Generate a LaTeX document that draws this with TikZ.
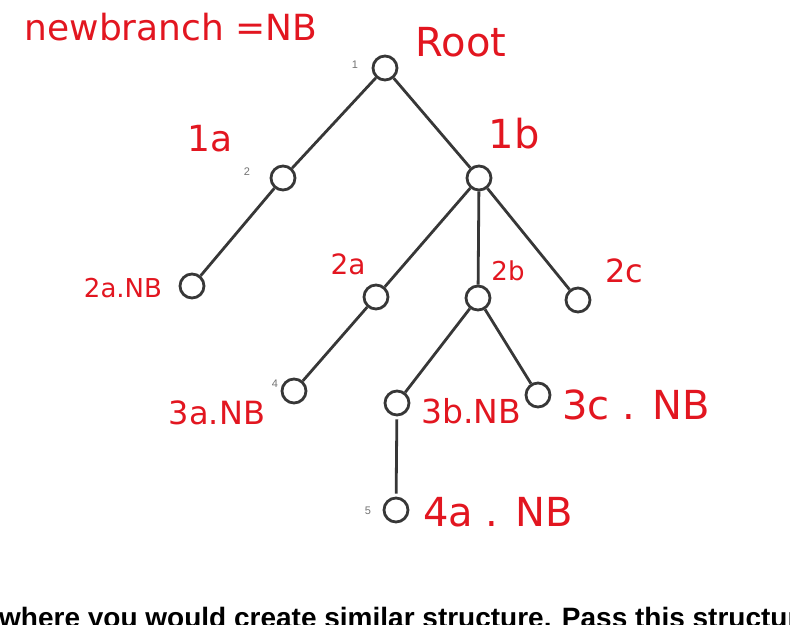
\documentclass[tikz,border=0pt]{standalone}
\usepackage{fontspec}
\setmainfont{Liberation Sans}
\newfontfamily\handfont{DejaVu Sans}
\definecolor{pen}{RGB}{226,22,32}
\definecolor{wire}{RGB}{55,55,55}
\begin{document}
\begin{tikzpicture}[x=1pt,y=-1pt,
  vtx/.style={circle,draw=wire,line width=2.8pt,minimum size=24pt,inner sep=0pt},
  link/.style={draw=wire,line width=2.8pt,shorten >=3pt,shorten <=3pt},
  hw/.style={text=pen,font=\handfont\fontsize{#1pt}{#1pt}\selectfont,inner sep=0pt},
  idx/.style={text=black!55,font=\fontsize{11pt}{11pt}\selectfont,inner sep=0pt}]
\useasboundingbox (0,0) rectangle (790,624);
\clip (0,0) rectangle (790,624);
\node[vtx] (root) at (385,68) {};
\node[vtx] (n1a) at (283,178) {};
\node[vtx] (n1b) at (479,178) {};
\node[vtx] (n2aNB) at (192,286) {};
\node[vtx] (n2a) at (376,297) {};
\node[vtx] (n2b) at (478,298) {};
\node[vtx] (n2c) at (578,300) {};
\node[vtx] (n3a) at (294,391) {};
\node[vtx] (n3b) at (397,403) {};
\node[vtx] (n3c) at (538,395) {};
\node[vtx] (n4a) at (396,510) {};
\node[idx] (i1) at (355,65) {1};
\node[idx] (i2) at (247,172) {2};
\node[idx] (i4) at (275,384) {4};
\node[idx] (i5) at (368,511) {5};
\node[hw=36] (key) at (171,27) {newbranch =NB};
\node[hw=40] (lroot) at (461,42) {Root};
\node[hw=36] (l1a) at (210,139) {1a};
\node[hw=40] (l1b) at (514,134) {1b};
\node[hw=26] (l2aNB) at (123,288) {2a.NB};
\node[hw=28] (l2a) at (348,264) {2a};
\node[hw=26] (l2b) at (508,271) {2b};
\node[hw=32] (l2c) at (624,271) {2c};
\node[hw=32] (l3a) at (217,413) {3a.NB};
\node[hw=33] (l3b) at (471,411) {3b.NB};
\node[hw=40] (l3c) at (636,405) {3c . NB};
\node[hw=40] (l4a) at (498,512) {4a . NB};
\draw[link] (root)--(n1a) (root)--(n1b) (n1a)--(n2aNB) (n1b)--(n2a) (n1b)--(n2b) (n1b)--(n2c) (n2a)--(n3a) (n2b)--(n3b) (n2b)--(n3c) (n3b)--(n4a);
\node[anchor=base west,font=\bfseries\fontsize{28pt}{28pt}\selectfont,inner sep=0pt] (note) at (-1,627) {where you would create similar structure. Pass this structure};
\end{tikzpicture}
\end{document}
